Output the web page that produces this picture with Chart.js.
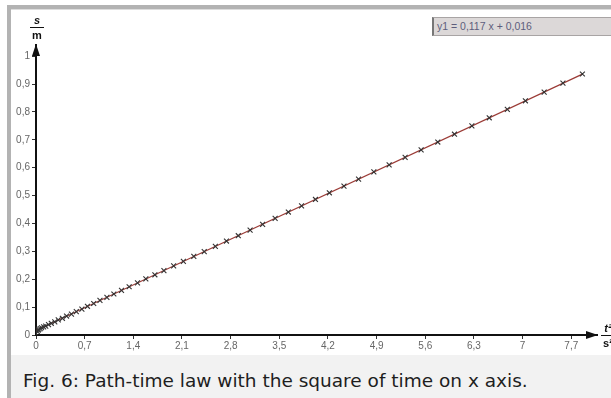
<!DOCTYPE html>
<html lang="en">
<head>
  <meta charset="UTF-8">
  <title>Path-time law, s over t squared</title>
  <script src="https://cdn.jsdelivr.net/npm/chart.js"></script>
  <style>
    body {margin: 0; width: 611px; height: 398px; background: #ffffff; position: relative; overflow: hidden; font-family: "Liberation Sans", Arial, sans-serif;}
    .frame {position: absolute; left: 7px; top: 5px; width: 610px; height: 400px; border-top: 4px solid #b3b3b3; border-left: 4px solid #b3b3b3;}
    .frame-inner {position: absolute; left: 11px; top: 9px; width: 600px; height: 1px; background: #dddddd;}
    #chart {position: absolute; left: 11px; top: 10px;}
    .unit {position: absolute; font-weight: bold; font-size: 11px; color: #111; text-align: center; line-height: 10px;}
    .unit .num {display: block; font-style: italic;}
    .unit .bar {display: block; height: 1px; background: #111; margin: 2px 0 2px 0;}
    .fit-box {position: absolute; left: 432px; top: 17px; width: 185px; height: 19px; background: #dcd8d8; border: 1px solid #a8a4a4; border-left: 2px solid #777; font-size: 10.5px; line-height: 17px; color: #5e5e7c; padding-left: 3px; box-sizing: border-box;}
    .caption {position: absolute; left: 11px; top: 355px; width: 600px; height: 43px; background: #f2f2f2; box-sizing: border-box; padding: 15px 0 0 12px; font-family: "DejaVu Sans", sans-serif; font-size: 18.5px; line-height: 22px; color: #1e1e1e; white-space: nowrap;}
  </style>
</head>
<body>
  <div class="frame"></div>
  <div class="frame-inner"></div>
  <canvas id="chart" width="600" height="345"></canvas>
  <div class="unit" style="left:30px; top:15px; width:14px;"><span class="num">s</span><span class="bar"></span><span>m</span></div>
  <div class="unit" style="left:601px; top:323px; width:14px;"><span class="num">t²</span><span class="bar"></span><span>s²</span></div>
  <div class="fit-box">y1 = 0,117 x + 0,016</div>
  <div class="caption">Fig. 6: Path-time law with the square of time on x axis.</div>
  <script>
    // tick positions on both axes
    const xTicks = [0, 0.7, 1.4, 2.1, 2.8, 3.5, 4.2, 4.9, 5.6, 6.3, 7, 7.7];
    const yTicks = [0, 0.1, 0.2, 0.3, 0.4, 0.5, 0.6, 0.7, 0.8, 0.9, 1];

    // measured points: t^2 in s^2, distance in m
    const tSquared = [0.00, 0.02, 0.03, 0.04, 0.06, 0.08, 0.11, 0.14, 0.18, 0.22, 0.27, 0.32, 0.38, 0.44, 0.51,
      0.58, 0.66, 0.74, 0.83, 0.92, 1.02, 1.12, 1.23, 1.34, 1.46, 1.58, 1.71, 1.84, 1.98, 2.12, 2.27, 2.42,
      2.58, 2.74, 2.91, 3.08, 3.26, 3.44, 3.63, 3.82, 4.02, 4.22, 4.43, 4.64, 4.86, 5.08, 5.31, 5.54, 5.78,
      6.02, 6.27, 6.52, 6.78, 7.04, 7.31, 7.58, 7.86];
    const distance = [0.005, 0.012, 0.017, 0.020, 0.023, 0.026, 0.029, 0.032, 0.037, 0.042, 0.047, 0.054, 0.060,
      0.068, 0.075, 0.084, 0.093, 0.103, 0.113, 0.124, 0.135, 0.147, 0.160, 0.173, 0.187, 0.201, 0.216, 0.231,
      0.248, 0.264, 0.282, 0.299, 0.318, 0.337, 0.356, 0.376, 0.397, 0.418, 0.441, 0.463, 0.486, 0.510, 0.534,
      0.559, 0.585, 0.610, 0.637, 0.664, 0.692, 0.720, 0.750, 0.779, 0.809, 0.840, 0.871, 0.903, 0.936];

    // regression y1 = 0,117 x + 0,016
    const fitSlope = 0.117;
    const fitIntercept = 0.016;
    const fitRange = [0, 7.86];

    const fmt = v => String(v).replace('.', ',');

    // filled arrow heads at the ends of both axes
    const axisArrows = {
      id: 'axisArrows',
      afterDraw(chart) {
        const { ctx, chartArea: a } = chart;
        ctx.save();
        ctx.fillStyle = '#111';
        ctx.beginPath();
        ctx.moveTo(a.left, a.top - 1);
        ctx.lineTo(a.left - 4, a.top + 11);
        ctx.lineTo(a.left + 4, a.top + 11);
        ctx.closePath();
        ctx.fill();
        ctx.beginPath();
        ctx.moveTo(a.right + 1, a.bottom);
        ctx.lineTo(a.right - 11, a.bottom - 4);
        ctx.lineTo(a.right - 11, a.bottom + 4);
        ctx.closePath();
        ctx.fill();
        ctx.restore();
      }
    };

    const tickFont = { family: '"Liberation Sans", Arial, sans-serif', size: 10 };

    new Chart(document.getElementById('chart'), {
      type: 'scatter',
      data: {
        datasets: [
          {
            type: 'line',
            label: 'y1',
            data: fitRange.map(x => ({ x: x, y: fitSlope * x + fitIntercept })),
            borderColor: '#9b3b36',
            borderWidth: 1.2,
            pointRadius: 0,
            fill: false,
            order: 2
          },
          {
            label: 's',
            data: tSquared.map((x, i) => ({ x: x, y: distance[i] })),
            pointStyle: 'crossRot',
            pointRadius: 3.5,
            borderColor: '#333333',
            borderWidth: 1.1,
            showLine: false,
            order: 1
          }
        ]
      },
      options: {
        responsive: false,
        devicePixelRatio: 1,
        animation: false,
        layout: { padding: { left: 0, top: 35, right: 14, bottom: 0 } },
        plugins: { legend: { display: false }, tooltip: { enabled: false } },
        scales: {
          x: {
            type: 'linear',
            min: 0,
            max: 8.07,
            afterBuildTicks: s => { s.ticks = xTicks.map(v => ({ value: v })); },
            afterFit: s => { s.height = 20; },
            ticks: { color: '#666', font: tickFont, padding: 1, maxRotation: 0, autoSkip: false, callback: v => fmt(v) },
            grid: { display: true, drawOnChartArea: false, drawTicks: true, tickLength: 4, color: '#333' },
            border: { display: true, color: '#111', width: 2 }
          },
          y: {
            type: 'linear',
            min: 0,
            max: 1.04,
            afterBuildTicks: s => { s.ticks = yTicks.map(v => ({ value: v })); },
            afterFit: s => { s.width = 25; },
            ticks: { color: '#666', font: tickFont, padding: 2, autoSkip: false, callback: v => fmt(v) },
            grid: { display: true, drawOnChartArea: false, drawTicks: true, tickLength: 4, color: '#333' },
            border: { display: true, color: '#111', width: 2 }
          }
        }
      },
      plugins: [axisArrows]
    });
  </script>
</body>
</html>
